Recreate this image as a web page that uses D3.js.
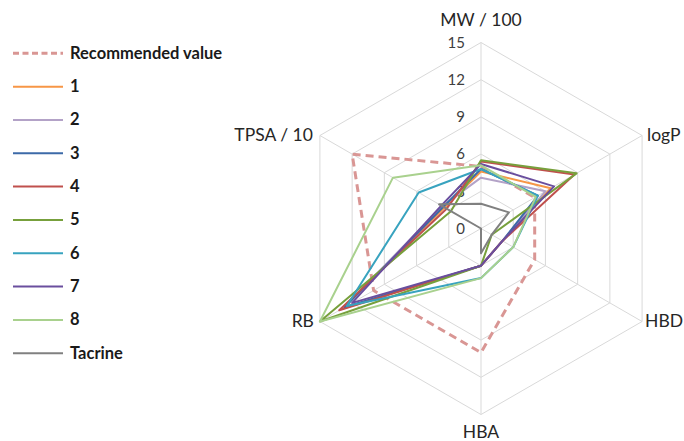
<!DOCTYPE html>
<html><head><meta charset="utf-8">
<script src="https://cdn.jsdelivr.net/npm/d3@7"></script>
<style>body{margin:0;background:#fff}svg{display:block}</style>
</head><body>
<svg id="c" width="684" height="441"></svg>
<script>
const axes = ["MW / 100","logP","HBD","HBA","RB","TPSA / 10"];
const ticks = [0,3,6,9,12,15];
const seriesNames = ["Recommended value","1","2","3","4","5","6","7","8","Tacrine"];
const recommended = [5,5,5,10,10,12];
const s1 = [4.6,6.5,2,3,13,3.4];
const s2 = [4.1,6.0,2,3,12.8,3.6];
const s3 = [4.8,5.3,2,3,12.7,3.5];
const s4 = [5.4,8.7,2,3,13.2,3.2];
const s5 = [5.5,8.9,1,3,15,2.8];
const s6 = [4.8,5.3,3,4,12.5,5.8];
const s7 = [5.2,6.8,2,3,12,3.7];
const s8 = [5.1,5.1,3,4,15,8.2];
const tacrine = [2.0,2.6,1,2,0,3.9];
const seriesValues = [recommended,s1,s2,s3,s4,s5,s6,s7,s8,tacrine];
const colors = ["#d99694","#f79646","#b3a2c7","#3c6aa8","#c0504d","#77a03c","#38a3bf","#6a4e9e","#a9d18e","#808080"];

const svg = d3.select("#c");
const cx = 481, cy = 228.5, R = 186;
const font = "Lato, 'Open Sans', sans-serif";
const r = d3.scaleLinear().domain([0,15]).range([0,R]);
const ang = d3.scalePoint().domain(axes).range([0, 2*Math.PI*5/6]);
const pt = (a,v)=>[cx + r(v)*Math.sin(ang(a)), cy - r(v)*Math.cos(ang(a))];

const g = svg.append("g");
ticks.filter(t=>t>0).forEach(t=>{
  g.append("path").attr("d", d3.line()(axes.map(a=>pt(a,t))) + "Z")
   .attr("fill","none").attr("stroke","#d9d9d9").attr("stroke-width",1);
});
axes.forEach(a=>{
  const p = pt(a,15);
  g.append("line").attr("x1",cx).attr("y1",cy).attr("x2",p[0]).attr("y2",p[1])
   .attr("stroke","#d9d9d9").attr("stroke-width",1);
});
ticks.forEach(t=>{
  g.append("text").attr("x",cx-16).attr("y",cy - r(t)+1.5)
   .attr("text-anchor","end").attr("dominant-baseline","middle")
   .attr("font-family",font).attr("font-size",15).attr("fill","#404040").text(t);
});
const labelPos = {
  "MW / 100": {dx:0, dy:-22, anchor:"middle"},
  "logP": {dx:5, dy:0, anchor:"start"},
  "HBD": {dx:3, dy:0, anchor:"start"},
  "HBA": {dx:0, dy:18, anchor:"middle"},
  "RB": {dx:-6, dy:0, anchor:"end"},
  "TPSA / 10": {dx:-7, dy:0, anchor:"end"}
};
axes.forEach(a=>{
  const p = pt(a,15), L = labelPos[a];
  g.append("text").attr("x",p[0]+L.dx).attr("y",p[1]+L.dy+1)
   .attr("text-anchor",L.anchor).attr("dominant-baseline","middle")
   .attr("font-family",font).attr("font-size",17.5).attr("fill","#262626").text(a);
});
const line = d3.line();
seriesValues.forEach((vals,i)=>{
  g.append("path").attr("d", line(axes.map((a,j)=>pt(a,vals[j]))) + "Z")
   .attr("fill","none").attr("stroke",colors[i])
   .attr("stroke-width", i===0 ? 3 : 2)
   .attr("stroke-dasharray", i===0 ? "8,5" : null)
   .attr("stroke-linejoin","round");
});
const lg = svg.append("g");
seriesNames.forEach((n,i)=>{
  const y = 53.3 + i*33.33;
  lg.append("line").attr("x1",13).attr("x2",63).attr("y1",y).attr("y2",y)
    .attr("stroke",colors[i]).attr("stroke-width", i===0?3:2)
    .attr("stroke-dasharray", i===0 ? "6,3.5" : null);
  lg.append("text").attr("x",70).attr("y",y+1).attr("dominant-baseline","middle")
    .attr("font-family",font).attr("font-weight","bold").attr("font-size",16.5)
    .attr("fill","#1a1a1a").text(n);
});
</script>
</body></html>
